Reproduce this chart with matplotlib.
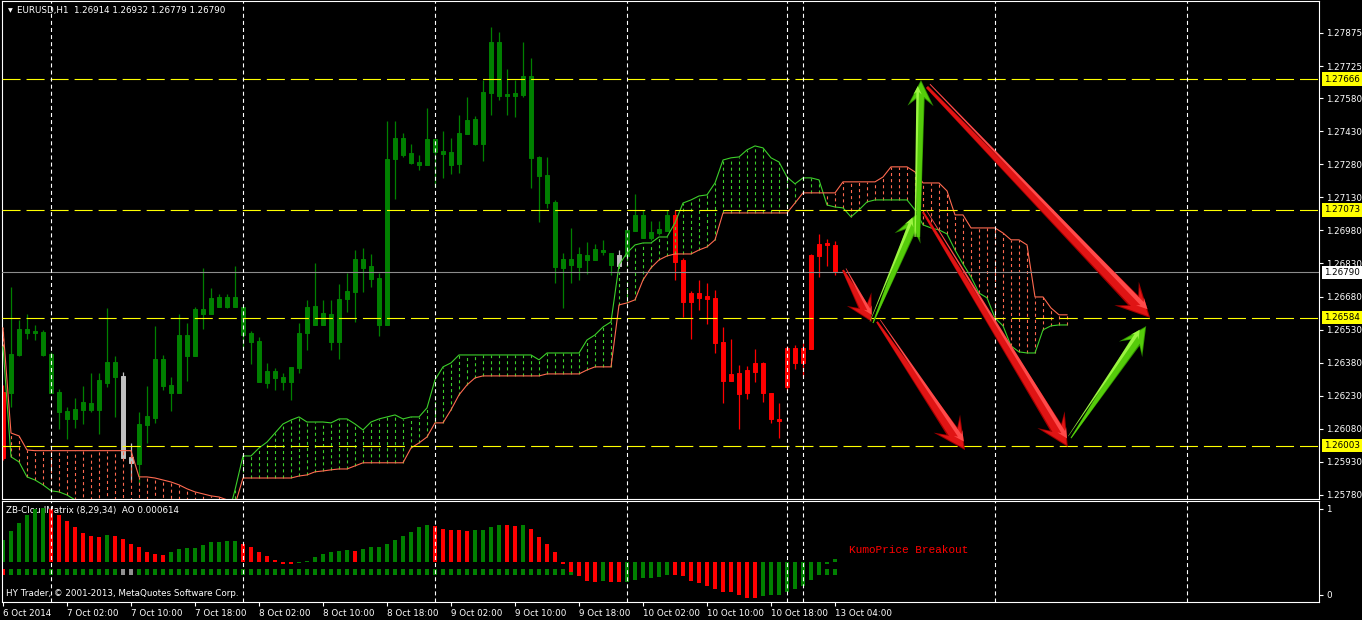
import numpy as np
import matplotlib.pyplot as plt
from matplotlib.patches import Polygon

plt.rcParams['lines.scale_dashes'] = False

# EURUSD H1 candles, prices in points (1e-5)
opens = [125948, 126243, 126415, 126533, 126515, 126520, 126420, 126247, 126161, 126125,
         126166, 126198, 126166, 126288, 126384, 126320, 125953, 125921, 126098, 126130,
         126397, 126279, 126243, 126506, 126411, 126624, 126601, 126678, 126633, 126678,
         126633, 126515, 126479, 126288, 126343, 126316, 126293, 126356, 126515, 126637,
         126551, 126601, 126474, 126669, 126701, 126851, 126819, 126764, 126551, 127304,
         127399, 127331, 127290, 127277, 127395, 127340, 127336, 127281, 127417, 127485,
         127372, 127603, 127834, 127590, 127603, 127594, 127680, 127313, 127231, 127109,
         126810, 126851, 126814, 126869, 126846, 126891, 126878, 126819, 126864, 126977,
         127050, 126946, 126968, 126977, 127050, 126846, 126656, 126696, 126669, 126674,
         126474, 126297, 126334, 126243, 126338, 126379, 126243, 126125, 126270, 126447,
         126379, 126442, 126864, 126923, 126914]
highs = [126279, 126724, 126574, 126601, 126551, 126529, 126429, 126261, 126179, 126220,
         126275, 126334, 126334, 126628, 126411, 126338, 126016, 126157, 126275, 126547,
         126415, 126316, 126601, 126560, 126633, 126810, 126719, 126692, 126692, 126819,
         126633, 126524, 126497, 126379, 126356, 126334, 126361, 126560, 126665, 126832,
         126665, 126665, 126737, 126787, 126891, 126900, 126873, 126787, 127476, 127476,
         127422, 127372, 127322, 127535, 127395, 127431, 127399, 127503, 127585, 127499,
         127662, 127903, 127880, 127712, 127662, 127834, 127762, 127318, 127313, 127118,
         126878, 126991, 126905, 126928, 126919, 126937, 126878, 126891, 126982, 127145,
         127073, 127023, 127023, 127073, 127073, 126855, 126705, 126755, 126742, 126710,
         126542, 126488, 126370, 126365, 126442, 126384, 126243, 126198, 126456, 126461,
         126470, 126873, 126964, 126941, 126932]
lows = [125939, 126179, 126411, 126488, 126483, 126411, 126243, 126080, 126034, 126084,
        126102, 126157, 126057, 126270, 126134, 125948, 125848, 125835, 126016, 126107,
        126257, 126161, 126243, 126297, 126411, 126533, 126601, 126633, 126628, 126633,
        126442, 126374, 126293, 126266, 126257, 126257, 126211, 126334, 126438, 126551,
        126551, 126438, 126397, 126610, 126565, 126701, 126724, 126501, 126551, 127123,
        127313, 127281, 127254, 127277, 127177, 127218, 127236, 127240, 127417, 127367,
        127295, 127503, 127571, 127503, 127494, 127585, 127172, 127018, 127082, 126742,
        126628, 126742, 126755, 126783, 126846, 126869, 126778, 126819, 126855, 126977,
        126946, 126937, 126959, 126977, 126755, 126588, 126488, 126619, 126556, 126424,
        126198, 126297, 126080, 126216, 126293, 126202, 126107, 126039, 126257, 126352,
        126316, 126442, 126769, 126819, 126779]
closes = [126247, 126420, 126533, 126515, 126524, 126415, 126243, 126157, 126125, 126170,
          126202, 126166, 126302, 126384, 126316, 125948, 125926, 126102, 126139, 126397,
          126275, 126243, 126506, 126411, 126624, 126601, 126674, 126633, 126678, 126633,
          126506, 126474, 126293, 126343, 126311, 126293, 126361, 126515, 126633, 126551,
          126606, 126474, 126669, 126705, 126851, 126810, 126760, 126551, 127304, 127399,
          127322, 127286, 127277, 127395, 127336, 127327, 127277, 127422, 127481, 127372,
          127608, 127834, 127590, 127599, 127590, 127680, 127309, 127227, 127104, 126814,
          126851, 126823, 126873, 126846, 126896, 126882, 126823, 126869, 126982, 127050,
          126946, 126973, 126987, 127050, 126837, 126656, 126696, 126674, 126683, 126470,
          126297, 126329, 126238, 126347, 126379, 126243, 126125, 126116, 126447, 126379,
          126447, 126869, 126919, 126914, 126790]
# g = above cloud, r = below cloud, w = inside cloud
candle_state = "r" + "g" * 14 + "ww" + "g" * 60 + "w" + "g" * 6 + "r" * 21

# Ichimoku spans (shifted 29 bars forward), points
span_a = ([126452, 125953, 125930, 125862, 125848, 125826, 125799, 125794, 125780, 125758,
           125744, 125731, 125712, 125694, 125676, 125658, 125644, 125631, 125622, 125613,
           125604, 125599, 125595, 125590, 125590, 125595, 125604, 125622, 125667, 125803,
           125957, 125957, 125993, 126020, 126061, 126102, 126120, 126134, 126111, 126111,
           126111, 126107, 126125, 126125, 126102, 126075, 126111, 126125, 126134, 126143,
           126125, 126134, 126134, 126175, 126302, 126361, 126379]
          + [126415] * 10
          + [126393] + [126424] * 5
          + [126483, 126506, 126542, 126565, 126823, 126878, 126914, 126923, 126923, 126950,
             126950, 127014, 127104, 127118, 127136, 127141, 127195, 127299, 127309, 127313,
             127345, 127363, 127354, 127309, 127290, 127222, 127191, 127218, 127218, 127209,
             127095, 127086, 127082, 127041, 127073, 127109]
          + [127118] * 5
          + [127073, 127005, 126991, 126982, 126964, 126891, 126828, 126769, 126696, 126674,
             126583, 126547, 126456, 126429, 126424, 126424, 126529, 126547, 126551, 126551])
span_b = ([126538, 126061, 126048, 125984] + [125981] * 13
          + [125862, 125862, 125857, 125848, 125839, 125826, 125808, 125794, 125785, 125776,
             125771, 125758, 125735]
          + [125857] * 7
          + [125866, 125871, 125885, 125889, 125894, 125898, 125898, 125912]
          + [125926] * 6
          + [125993, 126016, 126043, 126107, 126107, 126166, 126234, 126279, 126311]
          + [126320] * 8 + [126329] * 5 + [126347] + [126361] * 3
          + [126642, 126651, 126665, 126755, 126810, 126846, 126864, 126873, 126873, 126873,
             126891, 126905, 126937]
          + [127059] * 9 + [127104] + [127150] * 5 + [127200] * 5 + [127222] + [127268] * 3
          + [127245] + [127195] * 3 + [127159, 127050, 127050] + [126991] * 4
          + [126968, 126937, 126937, 126914, 126678, 126678, 126628, 126597, 126597])

# ZB-CloudMatrix histogram (AO) and state row
ao = [65, 92, 116, 140, 158, 163, 158, 140, 122, 104, 86, 78, 74, 80, 77, 69, 53, 44, 29, 23,
      22, 29, 38, 41, 42, 50, 59, 61, 62, 63, 53, 44, 31, 17, 5, -5, -7, -4, 2, 14,
      23, 29, 32, 35, 32, 38, 44, 44, 53, 65, 77, 89, 105, 112, 107, 100, 96, 96, 93, 96,
      97, 105, 111, 110, 109, 111, 99, 75, 54, 30, -5, -29, -42, -57, -60, -56, -60, -61, -60, -54,
      -48, -47, -45, -39, -40, -42, -57, -63, -72, -81, -90, -91, -99, -108, -109, -102, -100, -99, -90, -81,
      -72, -54, -27, -5, 8]
ao_state = ("gggggg" + "rrrrrrr" + "g" + "rrrrrrr" + "ggggggggg" + "rrrrrrr" + "ggggggg" + "r"
            + "ggggggggg" + "rr" + "rrr" + "gggg" + "rr" + "g" + "r" * 9 + "g" + "rr"
            + "g" * 6 + "r" * 11 + "g" * 10)
row_state = "r" + "g" * 14 + "ww" + "g" * 88

price_ticks = [1.27875, 1.27725, 1.27580, 1.27430, 1.27280, 1.27130, 1.26980, 1.26830,
               1.26680, 1.26530, 1.26380, 1.26230, 1.26080, 1.25930, 1.25780]
yellow_levels = [1.27666, 1.27073, 1.26584, 1.26003]
last_price = 1.26790
time_labels = ['6 Oct 2014', '7 Oct 02:00', '7 Oct 10:00', '7 Oct 18:00', '8 Oct 02:00',
               '8 Oct 10:00', '8 Oct 18:00', '9 Oct 02:00', '9 Oct 10:00', '9 Oct 18:00',
               '10 Oct 02:00', '10 Oct 10:00', '10 Oct 18:00', '13 Oct 04:00']
time_ticks = list(range(0, 105, 8))
day_lines = [6, 30, 54, 78, 98, 100, 124, 148]

# hand-drawn arrows: (bar, price) tail -> head, widths in px
arrows = [
    ((105.0, 1.26800), (108.6, 1.26565), 'r', 2, 10, 28, 26),
    ((108.75, 1.26560), (114.4, 1.27061), 'g', 1, 10, 28, 28),
    ((114.4, 1.26950), (114.75, 1.27662), 'g', 4, 8, 26, 26),
    ((115.5, 1.27630), (143.4, 1.26583), 'r', 3, 14, 34, 34),
    ((109.25, 1.26565), (120.25, 1.25984), 'r', 2, 13, 32, 32),
    ((115.0, 1.27063), (133.1, 1.25998), 'r', 2, 13, 32, 32),
    ((133.5, 1.26038), (142.9, 1.26546), 'g', 1, 11, 28, 28),
]

W, H = 1362, 620
fig = plt.figure(figsize=(W / 100, H / 100), dpi=100, facecolor='black')


def px_axes(x0, y0, x1, y1):
    a = fig.add_axes([x0 / W, 1 - y1 / H, (x1 - x0) / W, (y1 - y0) / H])
    a.set_facecolor('black')
    for s in a.spines.values():
        s.set_color('white')
        s.set_linewidth(0.8)
    return a


ax = px_axes(2, 1, 1319, 499)
ax2 = px_axes(2, 501, 1319, 602)
xlim = ((2 - 3) / 8, (1319 - 3) / 8)
ax.set_xlim(xlim)
ax2.set_xlim(xlim)
ax.set_ylim(1.257618, 1.280201)
ax2.set_ylim(-120, 183)

o = np.array(opens) / 1e5
hi = np.array(highs) / 1e5
lo = np.array(lows) / 1e5
c = np.array(closes) / 1e5
x = np.arange(len(o))
cmap = {'g': '#008000', 'r': '#ff0000', 'w': '#c0c0c0'}
cols = [cmap[k] for k in candle_state]
ax.vlines(x, lo, hi, colors=cols, lw=0.9, zorder=2)
bot = np.minimum(o, c)
ax.bar(x, np.maximum(o, c) - bot, bottom=bot, width=0.5, color=cols, edgecolor=cols,
       lw=0.7, zorder=2)

# cloud
sa = np.array(span_a) / 1e5
sb = np.array(span_b) / 1e5
xc = np.arange(len(sa))
lime, salmon = '#3ccf2a', '#ff6a50'
hcols = [lime if a >= b else salmon for a, b in zip(sa, sb)]
ax.vlines(xc, np.minimum(sa, sb), np.maximum(sa, sb), colors=hcols,
          linestyles=[(0, (2.2, 2.2))], lw=0.8, zorder=3)
ax.plot(xc, sa, color=lime, lw=0.8, zorder=3)
ax.plot(xc, sb, color=salmon, lw=0.8, zorder=3)

# objects
for lvl in yellow_levels:
    ax.axhline(lvl, color='#ffff00', lw=0.8, ls=(0, (13, 4.3)), zorder=4)
ax.axhline(last_price, color='#8c8c8c', lw=0.8, zorder=4)
for d in day_lines:
    for a in (ax, ax2):
        a.axvline(d, color='white', lw=0.8, ls=(0, (2.9, 2.2)), zorder=4)


def tapered_arrow(tail, head, kind, w0, w1, hw, hl):
    t = ax.transData
    p0 = t.transform(tail)
    p1 = t.transform(head)
    d = p1 - p0
    u = d / np.hypot(*d)
    n = np.array([-u[1], u[0]])
    shades = (('#a00000', 1.0, 0.0), ('#e01414', 0.8, 0.0), ('#ff4a4a', 0.32, 0.12))
    if kind == 'g':
        shades = (('#2f8f00', 1.0, 0.0), ('#55cc0a', 0.8, 0.0), ('#9cf542', 0.32, 0.12))
    for k, (col, s, off) in enumerate(shades):
        q1 = p1 - u * hl * (1 - s) * 0.35
        shift = n * hw * off
        notch = q1 - u * hl * 0.72 * s
        barb = q1 - u * hl * s
        pts = [p0 + n * w0 * s / 2, notch + n * w1 * s / 2, barb + n * hw * s / 2, q1,
               barb - n * hw * s / 2, notch - n * w1 * s / 2, p0 - n * w0 * s / 2]
        pts = np.array(pts) + shift
        ax.add_patch(Polygon(t.inverted().transform(pts), closed=True,
                             fc=col, ec='none', zorder=5 + k * 0.1))


for tail, head, kind, w0, w1, hw, hl in arrows:
    tapered_arrow(tail, head, kind, w0, w1, hw, hl)

# price scale
fs = 6.3
ax.yaxis.tick_right()
ax.set_yticks(price_ticks)
ax.set_yticklabels([f'{v:.5f}' for v in price_ticks])
ax.tick_params(axis='y', colors='white', labelsize=fs, length=3, width=0.8, pad=2)
ax.set_xticks([])
ytr = ax.get_yaxis_transform()
for lvl in yellow_levels + [last_price]:
    fc = 'white' if lvl == last_price else '#ffff00'
    ax.text(1 + 5 / 1317, lvl, f'{lvl:.5f}', transform=ytr, color='black', fontsize=fs,
            va='center', ha='left', clip_on=False, zorder=6,
            bbox=dict(boxstyle='square,pad=0.25', fc=fc, ec='none'))

ax2.yaxis.tick_right()
ax2.set_yticks([159, -99])
ax2.set_yticklabels(['1', '0'])
ax2.tick_params(axis='y', colors='white', labelsize=fs, length=3, width=0.8, pad=2)
ax2.set_xticks(time_ticks)
ax2.set_xticklabels(time_labels, ha='left')
ax2.tick_params(axis='x', colors='white', labelsize=fs, length=3, width=0.8, pad=2)

# indicator panel
acm = {'g': '#008000', 'r': '#ff0000', 'w': '#909090'}
xa = np.arange(len(ao))
ax2.bar(xa, ao, width=0.5, color=[acm[k] for k in ao_state], zorder=2)
ax2.bar(xa, 18, bottom=-39, width=0.62, color=[acm[k] for k in row_state], zorder=1.5)
ax2.text(4 / 1317, (602 - 510) / 101, 'ZB-CloudMatrix (8,29,34)  AO 0.000614',
         transform=ax2.transAxes, color='white', fontsize=fs, va='center', zorder=1)
ax2.text(4 / 1317, (602 - 594) / 101, 'HY Trader, \u00a9 2001-2013, MetaQuotes Software Corp.',
         transform=ax2.transAxes, color='white', fontsize=fs, va='center', zorder=1)
ax2.text(105.75, 36, 'KumoPrice Breakout', color='#ff0000', fontsize=8,
         family='Liberation Mono', va='center', zorder=3)

fig.text(8 / W, 1 - 11 / H, '\u25bc', color='white', fontsize=4.5, va='center')
fig.text(17 / W, 1 - 11 / H, 'EURUSD,H1  1.26914 1.26932 1.26779 1.26790', color='white',
         fontsize=fs, va='center')

fig.savefig('out.png', dpi=100, facecolor='black')
